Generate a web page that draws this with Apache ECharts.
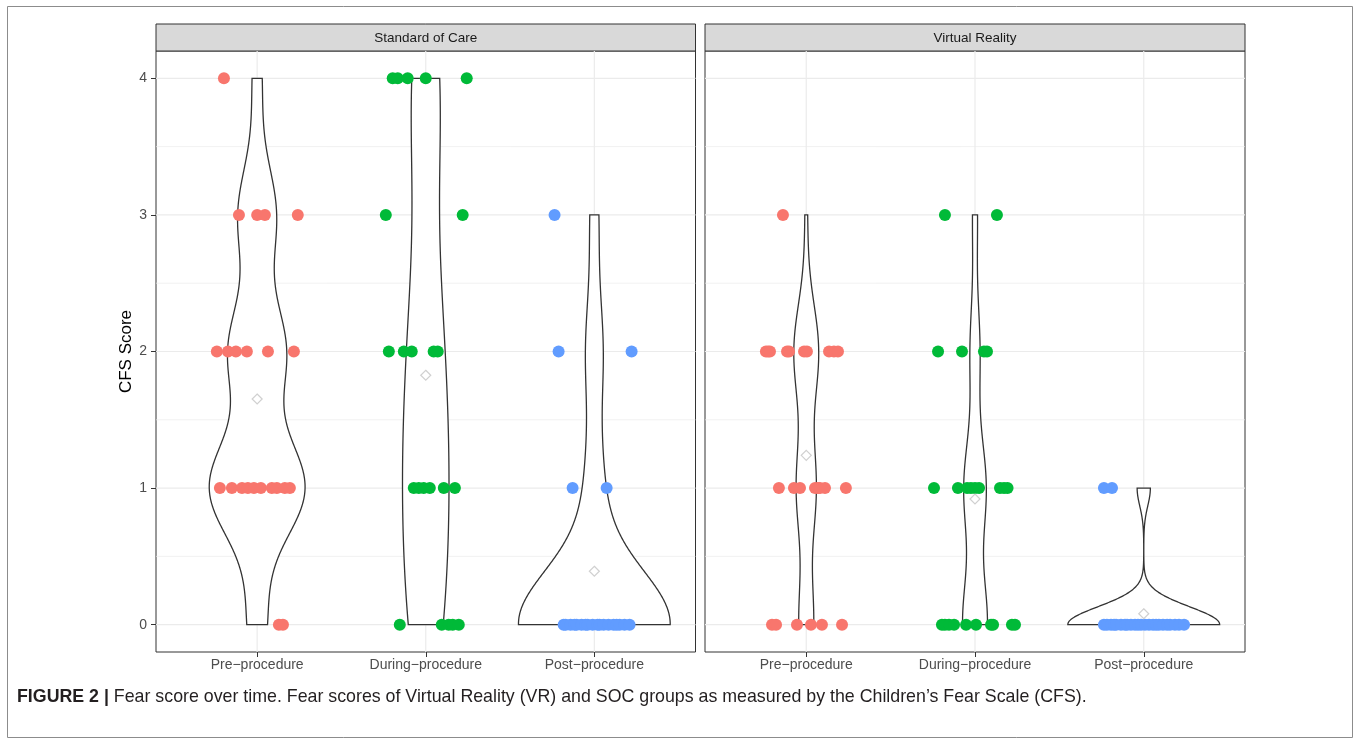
<!DOCTYPE html>
<html>
<head>
<meta charset="utf-8">
<script src="https://cdn.jsdelivr.net/npm/echarts@6.0.0/dist/echarts.min.js"></script>
<style>
  html, body { margin: 0; padding: 0; background: #ffffff; }
  #chart { width: 1360px; height: 744px; }
</style>
</head>
<body>
<div id="chart"></div>
<script>
// ---- data -------------------------------------------------------------
const categories = ['Pre\u2212procedure', 'During\u2212procedure', 'Post\u2212procedure'];
const panels = ['Standard of Care', 'Virtual Reality'];
const yTicks = [0, 1, 2, 3, 4];
const caption = 'Fear score over time. Fear scores of Virtual Reality (VR) and SOC groups as measured by the Children\u2019s Fear Scale (CFS).';

// CFS score of each child, with the horizontal jitter (category units) of its dot
const socPreScores = [4, 3, 3, 3, 3, 2, 2, 2, 2, 2, 2, 1, 1, 1, 1, 1, 1, 1, 1, 1, 1, 0, 0];
const socPreJitter = [-0.197, -0.108, 0.000, 0.046, 0.241, -0.239, -0.173, -0.126, -0.061, 0.064, 0.218,
  -0.221, -0.150, -0.090, -0.055, -0.019, 0.022, 0.087, 0.117, 0.164, 0.194, 0.129, 0.153];

const socDuringScores = [4, 4, 4, 4, 4, 3, 3, 2, 2, 2, 2, 2, 1, 1, 1, 1, 1, 1, 0, 0, 0, 0, 0];
const socDuringJitter = [-0.196, -0.166, -0.107, 0.000, 0.243, -0.237, 0.219, -0.219, -0.130, -0.083, 0.047, 0.071,
  -0.071, -0.041, -0.012, 0.024, 0.107, 0.173, -0.154, 0.095, 0.136, 0.160, 0.196];

const socPostScores = [3, 2, 2, 1, 1, 0, 0, 0, 0, 0, 0, 0, 0, 0, 0, 0, 0, 0, 0, 0, 0, 0, 0];
const socPostJitter = [-0.236, -0.212, 0.221, -0.129, 0.073, -0.182, -0.170, -0.141, -0.117, -0.105, -0.076,
  -0.052, -0.040, -0.010, 0.019, 0.031, 0.055, 0.084, 0.114, 0.132, 0.150, 0.179, 0.209];

const vrPreScores = [3, 2, 2, 2, 2, 2, 2, 2, 2, 2, 2, 1, 1, 1, 1, 1, 1, 1, 1, 0, 0, 0, 0, 0, 0];
const vrPreJitter = [-0.138, -0.239, -0.226, -0.215, -0.114, -0.102, -0.013, 0.004, 0.135, 0.164, 0.188,
  -0.162, -0.073, -0.037, 0.052, 0.070, 0.081, 0.111, 0.235, -0.203, -0.179, -0.055, 0.028, 0.093, 0.212];

const vrDuringScores = [3, 3, 2, 2, 2, 2, 1, 1, 1, 1, 1, 1, 1, 1, 1, 0, 0, 0, 0, 0, 0, 0, 0, 0, 0];
const vrDuringJitter = [-0.178, 0.130, -0.219, -0.077, 0.053, 0.071, -0.243, -0.101, -0.047, -0.024, 0.000, 0.024,
  0.148, 0.172, 0.193, -0.196, -0.178, -0.154, -0.124, -0.053, 0.006, 0.095, 0.107, 0.219, 0.237];

const vrPostScores = [1, 1, 0, 0, 0, 0, 0, 0, 0, 0, 0, 0, 0, 0, 0, 0, 0, 0, 0, 0, 0, 0, 0, 0, 0];
const vrPostJitter = [-0.236, -0.188, -0.236, -0.218, -0.194, -0.176, -0.164, -0.135, -0.111, -0.099, -0.076,
  -0.052, -0.034, -0.016, 0.007, 0.031, 0.055, 0.073, 0.090, 0.114, 0.138, 0.156, 0.185, 0.209, 0.239];

const groupColors = ['#F8766D', '#00BA38', '#619CFF'];

// ---- layout -----------------------------------------------------------
const FONT = '"Liberation Sans", Arial, Helvetica, sans-serif';
const PANEL_TOP = 51, PANEL_H = 601, STRIP_TOP = 24;
const panelBoxes = [{ left: 156, width: 539.5 }, { left: 705, width: 540 }];

const groups = [
  [[socPreScores, socPreJitter], [socDuringScores, socDuringJitter], [socPostScores, socPostJitter]],
  [[vrPreScores, vrPreJitter], [vrDuringScores, vrDuringJitter], [vrPostScores, vrPostJitter]]
];

// ---- kernel density (gaussian, bw.nrd0, trimmed to data range) --------
function quantile7(sorted, p) {
  const h = (sorted.length - 1) * p, lo = Math.floor(h), hi = Math.ceil(h);
  return sorted[lo] + (h - lo) * (sorted[hi] - sorted[lo]);
}
function bwNrd0(x) {
  const n = x.length;
  const mean = x.reduce((a, b) => a + b, 0) / n;
  const sd = Math.sqrt(x.reduce((a, b) => a + (b - mean) * (b - mean), 0) / (n - 1));
  const s = [...x].sort((a, b) => a - b);
  const iqr = quantile7(s, 0.75) - quantile7(s, 0.25);
  let lo = Math.min(sd, iqr / 1.34);
  if (!lo) lo = sd || Math.abs(s[0]) || 1;
  return 0.9 * lo * Math.pow(n, -0.2);
}
function density(x, npts) {
  const bw = bwNrd0(x);
  const lo = Math.min(...x), hi = Math.max(...x);
  const norm = x.length * bw * Math.sqrt(2 * Math.PI);
  const out = [];
  for (let i = 0; i < npts; i++) {
    const y = lo + (hi - lo) * i / (npts - 1);
    let s = 0;
    for (const v of x) { const z = (y - v) / bw; s += Math.exp(-0.5 * z * z); }
    out.push([y, s / norm]);
  }
  return out;
}
// violin outlines in data units; widths scaled by the largest density in the panel
const violinOutlines = groups.map(panelGroups => {
  const dens = panelGroups.map(g => density(g[0], 512));
  const maxD = Math.max(...dens.map(d => Math.max(...d.map(p => p[1]))));
  return dens.map((d, ci) => {
    const c = ci + 1;
    const right = d.map(([y, v]) => [c + 0.45 * v / maxD, y]);
    const left = d.slice().reverse().map(([y, v]) => [c - 0.45 * v / maxD, y]);
    return right.concat(left);
  });
});

const mean = arr => arr.reduce((a, b) => a + b, 0) / arr.length;

// ---- options ----------------------------------------------------------
const catPositions = categories.map((c, i) => i + 1);
const yMinor = yTicks.slice(1).map((v, i) => (v + yTicks[i]) / 2);

const grids = panelBoxes.map(b => ({
  left: b.left, top: PANEL_TOP, width: b.width, height: PANEL_H,
  show: true, borderColor: '#333333', borderWidth: 1, backgroundColor: '#ffffff',
  containLabel: false, outerBoundsMode: 'none'
}));

const xAxes = panelBoxes.map((b, i) => ({
  type: 'value', gridIndex: i, min: 0.4, max: 3.6,
  axisLine: { show: false, onZero: false },
  splitLine: { show: false },
  axisTick: { show: true, customValues: catPositions, length: 5, lineStyle: { color: '#333333', width: 1 } },
  axisLabel: {
    show: true, customValues: catPositions, margin: 6,
    formatter: v => categories[Math.round(v) - 1] || '',
    color: '#4d4d4d', fontSize: 14, fontFamily: FONT
  }
}));

const yAxes = panelBoxes.map((b, i) => ({
  type: 'value', gridIndex: i, min: -0.2, max: 4.2,
  axisLine: { show: false, onZero: false },
  splitLine: { show: false },
  axisTick: { show: i === 0, customValues: yTicks, length: 5, lineStyle: { color: '#333333', width: 1 } },
  axisLabel: { show: i === 0, customValues: yTicks, margin: 9, color: '#4d4d4d', fontSize: 14, fontFamily: FONT },
  name: i === 0 ? 'CFS Score' : '',
  nameLocation: 'middle', nameRotate: 90, nameGap: 21,
  nameTextStyle: { color: '#000000', fontSize: 17, fontFamily: FONT }
}));

const series = [];
panelBoxes.forEach((b, pi) => {
  // panel grid lines
  const gridData = yTicks.map(v => [0, v, 0])
    .concat(yMinor.map(v => [0, v, 1]))
    .concat(catPositions.map(v => [1, v, 0]));
  series.push({
    type: 'custom', xAxisIndex: pi, yAxisIndex: pi, silent: true, z: 1,
    data: gridData,
    renderItem: (params, api) => {
      const cs = params.coordSys;
      const dir = api.value(0), val = api.value(1), minor = api.value(2);
      const style = { stroke: '#ebebeb', lineWidth: minor ? 0.7 : 1.2 };
      if (dir === 0) {
        const y = api.coord([2, val])[1];
        return { type: 'line', shape: { x1: cs.x, y1: y, x2: cs.x + cs.width, y2: y }, style };
      }
      const x = api.coord([val, 2])[0];
      return { type: 'line', shape: { x1: x, y1: cs.y, x2: x, y2: cs.y + cs.height }, style };
    }
  });
  // violins
  series.push({
    type: 'custom', xAxisIndex: pi, yAxisIndex: pi, silent: true, z: 2,
    data: catPositions.map(c => [c, 0]),
    renderItem: (params, api) => {
      const pts = violinOutlines[pi][params.dataIndex].map(p => api.coord(p));
      return { type: 'polygon', shape: { points: pts },
        style: { fill: '#ffffff', stroke: '#333333', lineWidth: 1.3 } };
    }
  });
  // jittered points
  groups[pi].forEach(([scores, jitter], ci) => {
    series.push({
      type: 'scatter', xAxisIndex: pi, yAxisIndex: pi, z: 3,
      symbol: 'circle', symbolSize: 12,
      itemStyle: { color: groupColors[ci], opacity: 1 },
      data: scores.map((s, k) => [ci + 1 + jitter[k], s])
    });
  });
  // group means
  series.push({
    type: 'scatter', xAxisIndex: pi, yAxisIndex: pi, z: 4,
    symbol: 'diamond', symbolSize: 10,
    itemStyle: { color: 'rgba(255,255,255,0)', borderColor: '#c4c4c4', borderWidth: 1.2 },
    data: groups[pi].map(([scores], ci) => [ci + 1, mean(scores)])
  });
});

const graphic = [
  { type: 'rect', shape: { x: 7.5, y: 6.5, width: 1345, height: 731 },
    style: { fill: 'none', stroke: '#8c8c8c', lineWidth: 1 }, z: -10, silent: true }
];
panelBoxes.forEach((b, i) => {
  graphic.push({ type: 'rect', shape: { x: b.left, y: STRIP_TOP, width: b.width, height: PANEL_TOP - STRIP_TOP },
    style: { fill: '#d9d9d9', stroke: '#333333', lineWidth: 1 }, silent: true });
  graphic.push({ type: 'text', x: b.left + b.width / 2, y: (STRIP_TOP + PANEL_TOP) / 2 + 0.5,
    style: { text: panels[i], textAlign: 'center', textVerticalAlign: 'middle',
      fontSize: 13.5, fontFamily: FONT, fill: '#1a1a1a' }, silent: true });
});
graphic.push({ type: 'text', x: 17, y: 697,
  style: { text: '{b|FIGURE 2 |} ' + caption, textVerticalAlign: 'middle',
    fontSize: 17.8, fontFamily: FONT, fill: '#231f20',
    rich: { b: { fontWeight: 'bold', fontSize: 17.8, fontFamily: FONT, fill: '#231f20' } } }, silent: true });

const chart = echarts.init(document.getElementById('chart'), null, { renderer: 'canvas' });
chart.setOption({
  animation: false,
  backgroundColor: '#ffffff',
  grid: grids,
  xAxis: xAxes,
  yAxis: yAxes,
  series: series,
  graphic: graphic
});
</script>
</body>
</html>
